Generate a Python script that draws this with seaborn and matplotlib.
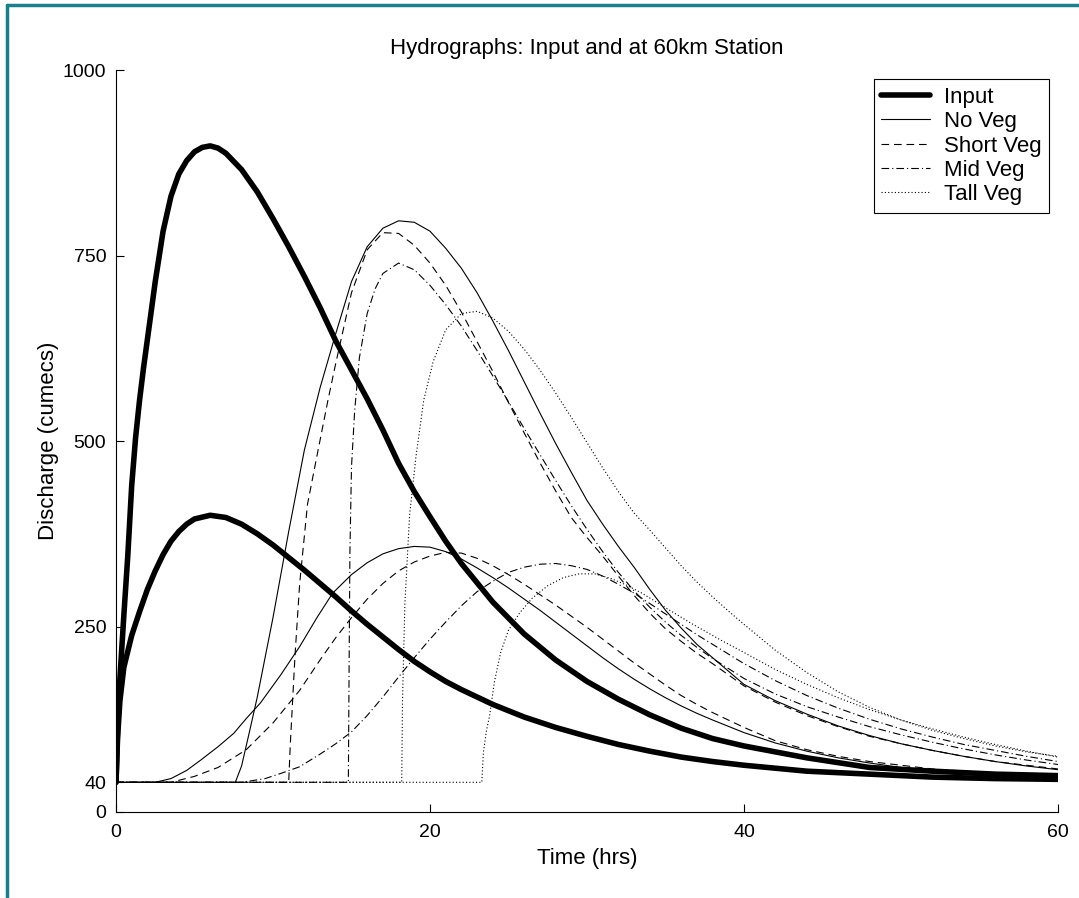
import matplotlib.pyplot as plt
import seaborn as sns
from matplotlib.lines import Line2D

sns.set_style('ticks')
plt.rcParams['font.family'] = ['Liberation Sans', 'DejaVu Sans']
plt.rcParams['lines.scale_dashes'] = False
for k in ['text.color', 'axes.labelcolor', 'xtick.color', 'ytick.color', 'axes.edgecolor']:
    plt.rcParams[k] = 'black'

# input hydrographs (large and small event)
t_in_large = [0, 0.1, 0.25, 0.5, 0.75, 1.0, 1.25, 1.5, 1.75, 2.0, 2.5, 3.0, 3.5, 4.0, 4.5,
              5.0, 5.5, 6.0, 6.5, 7.0, 8.0, 9.0, 10, 11, 12, 13, 14, 15, 16, 17, 18, 19, 20, 21, 22,
              24, 26, 28, 30, 32, 34, 36, 38, 40, 44, 48, 52, 56, 60]
q_in_large = [40, 110, 180, 265, 345, 440, 505, 555, 598, 637, 715, 783, 830, 860, 878,
              890, 896, 898, 895, 888, 866, 836, 800, 762, 722, 680, 635, 596, 557, 515, 470, 432, 398, 365, 335,
              283, 240, 205, 176, 152, 131, 113, 99, 89, 73, 60, 55, 51, 49]

t_in_small = [0, 0.1, 0.25, 0.5, 1.0, 1.5, 2.0, 2.5, 3.0, 3.5, 4.0, 4.5, 5.0, 6.0, 7.0,
              8.0, 9.0, 10, 11, 12, 13, 14, 15, 16, 17, 18, 19, 20, 21, 22,
              24, 26, 28, 30, 32, 34, 36, 38, 40, 44, 48, 52, 56, 60]
q_in_small = [40, 100, 150, 195, 238, 270, 300, 325, 347, 365, 378, 388, 395, 400, 397,
              388, 375, 360, 343, 326, 308, 290, 271, 253, 236, 219, 203, 189, 176, 165,
              145, 128, 114, 102, 91, 82, 74, 68, 63, 55, 51, 47, 45, 44]

# 60km station, large event
t_nv_large = [0, 7.6, 8.0, 8.5, 9, 10, 11, 12, 13, 14, 15, 16, 17, 18, 19, 20, 21, 22, 23, 24,
              25, 26, 27, 28, 29, 30, 31, 32, 33, 34, 35, 36, 37, 38, 39,
              40, 42, 44, 46, 48, 50, 52, 54, 56, 58, 60]
q_nv_large = [40, 40, 62, 108, 155, 262, 378, 488, 572, 645, 715, 762, 787, 797, 795, 783, 760, 733, 700, 662,
              622, 580, 538, 497, 458, 420, 388, 358, 330, 300, 272, 248, 226, 208, 190,
              172, 150, 132, 116, 103, 92, 83, 75, 68, 62, 57]

t_sv_large = [0, 11.0, 11.1, 11.2, 11.4, 11.7, 12.2, 12.8, 13.5, 14, 15, 16, 17, 18, 19, 20, 21, 22,
              23, 24, 25, 26, 27, 28, 29, 30, 31, 32, 33, 34, 35, 36, 37, 38,
              40, 42, 44, 46, 48, 50, 52, 54, 56, 58, 60]
q_sv_large = [40, 40, 90, 130, 210, 308, 415, 480, 555, 605, 700, 758, 781, 780, 764, 740, 710, 674,
              634, 594, 552, 511, 471, 433, 397, 370, 345, 318, 292, 268, 247, 230, 214, 200,
              170, 148, 130, 115, 102, 92, 83, 75, 68, 63, 58]

t_mv_large = [0, 14.8, 14.85, 14.9, 15.0, 15.2, 15.5, 16, 16.5, 17, 18, 19, 20, 21, 22, 23, 24,
              25, 26, 27, 28, 29, 30, 31, 32, 33, 34, 35, 36, 37, 38,
              40, 42, 44, 46, 48, 50, 52, 54, 56, 58, 60]
q_mv_large = [40, 40, 200, 350, 465, 540, 612, 672, 705, 726, 740, 731, 710, 684, 655, 622, 588,
              553, 517, 482, 447, 413, 381, 351, 323, 298, 276, 256, 238, 222, 207,
              180, 159, 142, 128, 115, 104, 94, 85, 77, 70, 64]

t_tv_large = [0, 18.2, 18.25, 18.4, 18.7, 19.1, 19.6, 20.2, 21, 22, 23, 24, 25, 26, 27, 28, 29,
              30, 31, 32, 33, 34, 35, 36, 37, 38, 39, 40, 42, 44, 46, 48, 50, 52, 54, 56, 58, 60]
q_tv_large = [40, 40, 150, 280, 400, 478, 555, 607, 650, 672, 675, 666, 648, 624, 596, 565, 532,
              498, 464, 432, 403, 380, 356, 332, 310, 290, 271, 253, 218, 188, 162, 141, 124, 110, 99, 89, 81, 75]

# 60km station, small event
t_nv_small = [0, 2.5, 3.5, 4.5, 5.4, 6.5, 7.5, 8.3, 9.2, 10.5, 11.7, 12.8, 13.8, 15,
              16, 17, 18, 19, 20, 21, 22, 23, 24, 25, 26, 27, 28, 29, 30, 31, 32, 33, 34, 35, 36, 37, 38,
              40, 42, 44, 46, 48, 50, 52, 54, 56, 58, 60]
q_nv_small = [40, 40, 45, 56, 70, 88, 106, 126, 147, 185, 223, 262, 295, 320,
              336, 348, 355, 358, 357, 351, 341, 329, 316, 302, 287, 272, 256, 240, 224, 208, 193, 179, 166, 154, 143, 133, 124,
              107, 93, 82, 73, 66, 60, 56, 52, 50, 48, 46]

t_sv_small = [0, 3.5, 5, 6.5, 8.3, 10, 11.7, 13, 14, 15, 16, 17, 18, 19, 20, 21, 22, 23, 24, 25,
              26, 27, 28, 29, 30, 31, 32, 33, 34, 35, 36, 37, 38,
              40, 42, 44, 46, 48, 50, 52, 54, 56, 58, 60]
q_sv_small = [40, 40, 48, 60, 84, 120, 164, 205, 235, 262, 287, 308, 325, 337, 345, 350, 349, 342, 332, 320,
              307, 293, 279, 264, 249, 233, 217, 201, 186, 171, 157, 145, 134,
              114, 96, 84, 75, 68, 63, 58, 55, 53, 51, 50]

t_mv_small = [0, 8, 9.5, 10.5, 11.7, 13, 14, 15, 16, 17, 18, 19, 20, 21, 22, 23, 24, 25,
              26, 27, 28, 29, 30, 31, 32, 33, 34, 35, 36, 37, 38,
              40, 42, 44, 46, 48, 50, 52, 54, 56, 58, 60]
q_mv_small = [40, 40, 45, 52, 61, 78, 92, 108, 130, 155, 182, 208, 233, 256, 278, 297, 311, 323,
              330, 334, 335, 332, 327, 318, 307, 295, 281, 267, 253, 239, 226,
              200, 177, 157, 140, 125, 112, 101, 91, 83, 75, 68]

t_tv_small = [0, 23.3, 23.4, 23.6, 23.8, 24.1, 24.5, 25, 25.7, 26.5, 27.5, 28.5, 29.5, 30.5, 31.5,
              32.5, 33.5, 34.5, 35.5, 36.5, 37.5, 38.5, 40, 42, 44, 46, 48, 50, 52, 54, 56, 58, 60]
q_tv_small = [40, 40, 80, 110, 130, 175, 215, 245, 268, 288, 305, 316, 321, 321, 315,
              306, 295, 282, 269, 256, 244, 232, 215, 192, 172, 154, 138, 124, 112, 101, 91, 82, 74]

x_ticks = [0, 20, 40, 60]
y_ticks = [0, 40, 250, 500, 750, 1000]

# matlab-ish line styles, in points
ls_solid = '-'
ls_dash = (0, (5.5, 3.5))
ls_dashdot = (0, (5.5, 2.2, 0.8, 2.2))
ls_dot = (0, (0.8, 1.6))
thin = 0.8
thick = 4.0

fig = plt.figure(figsize=(10.79, 8.98), dpi=100)
ax = fig.add_axes([0.1075, 0.0958, 0.873, 0.826])

sns.lineplot(x=t_in_large, y=q_in_large, ax=ax, color='black', lw=thick, label='Input',
             estimator=None, sort=False)
sns.lineplot(x=t_nv_large, y=q_nv_large, ax=ax, color='black', lw=thin, linestyle=ls_solid,
             label='No Veg', estimator=None, sort=False)
sns.lineplot(x=t_sv_large, y=q_sv_large, ax=ax, color='black', lw=thin, linestyle=ls_dash,
             label='Short Veg', estimator=None, sort=False)
sns.lineplot(x=t_mv_large, y=q_mv_large, ax=ax, color='black', lw=thin, linestyle=ls_dashdot,
             label='Mid Veg', estimator=None, sort=False)
sns.lineplot(x=t_tv_large, y=q_tv_large, ax=ax, color='black', lw=thin, linestyle=ls_dot,
             label='Tall Veg', estimator=None, sort=False)

# small event, no legend entries
sns.lineplot(x=t_in_small, y=q_in_small, ax=ax, color='black', lw=thick, estimator=None, sort=False)
sns.lineplot(x=t_nv_small, y=q_nv_small, ax=ax, color='black', lw=thin, linestyle=ls_solid,
             estimator=None, sort=False)
sns.lineplot(x=t_sv_small, y=q_sv_small, ax=ax, color='black', lw=thin, linestyle=ls_dash,
             estimator=None, sort=False)
sns.lineplot(x=t_mv_small, y=q_mv_small, ax=ax, color='black', lw=thin, linestyle=ls_dashdot,
             estimator=None, sort=False)
sns.lineplot(x=t_tv_small, y=q_tv_small, ax=ax, color='black', lw=thin, linestyle=ls_dot,
             estimator=None, sort=False)

ax.set_xlim(0, 60)
ax.set_ylim(0, 1000)
ax.set_xticks(x_ticks)
ax.set_yticks(y_ticks)
ax.tick_params(direction='in', length=6, width=0.8, labelsize=14, pad=7, colors='black')
ax.tick_params(axis='x', pad=9)
sns.despine(ax=ax)
for s in ['left', 'bottom']:
    ax.spines[s].set_color('black')
    ax.spines[s].set_linewidth(0.8)

ax.set_title('Hydrographs: Input and at 60km Station', fontsize=16, pad=12)
ax.set_xlabel('Time (hrs)', fontsize=16, labelpad=5)
ax.set_ylabel('Discharge (cumecs)', fontsize=16, labelpad=3)

leg = ax.legend(loc='upper right', fontsize=16, frameon=True, fancybox=False, framealpha=1,
                edgecolor='black', borderaxespad=0.4, handlelength=2.2, handletextpad=0.6,
                labelspacing=0.15, borderpad=0.35)
leg.get_frame().set_linewidth(0.8)

# teal frame (top and left edges visible)
teal = '#17808b'
fig.add_artist(Line2D([7 / 1079, 7 / 1079], [0, 1 - 5 / 898], transform=fig.transFigure,
                      color=teal, lw=2.5))
fig.add_artist(Line2D([7 / 1079, 1], [1 - 5 / 898, 1 - 5 / 898], transform=fig.transFigure,
                      color=teal, lw=2.5))

fig.savefig('out.png', dpi=100)
